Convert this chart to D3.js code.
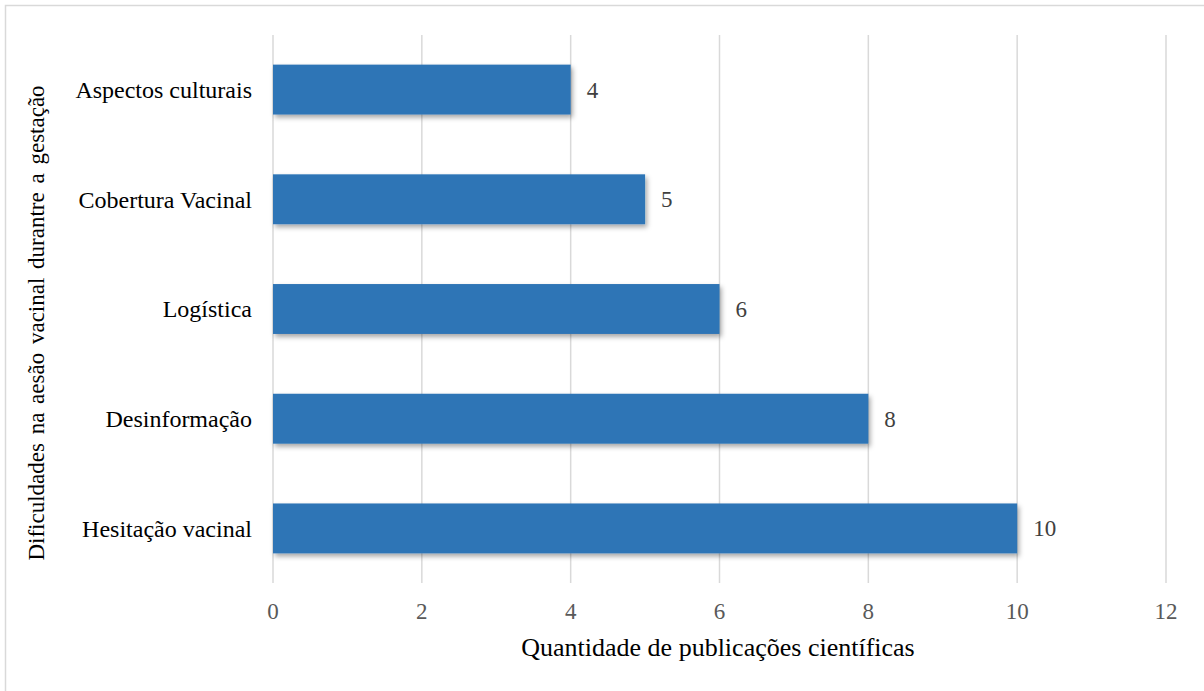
<!DOCTYPE html>
<html>
<head>
<meta charset="utf-8">
<script src="https://cdn.jsdelivr.net/npm/d3@7"></script>
<style>
  html, body { margin: 0; padding: 0; background: #fff; }
  svg { display: block; }
</style>
</head>
<body>
<svg id="chart" width="1204" height="691"></svg>
<script>
// Dificuldades na adesão vacinal — horizontal bar chart
const categories = ["Aspectos culturais", "Cobertura Vacinal", "Logística", "Desinformação", "Hesitação vacinal"];
const values = [4, 5, 6, 8, 10];
const xTicks = [0, 2, 4, 6, 8, 10, 12];
const xTitle = "Quantidade de publicações científicas";
const yTitle = "Dificuldades na aesão vacinal durantre a gestação";

const svg = d3.select("#chart");
const W = 1204, H = 691;
const margin = { top: 35, right: 38, bottom: 108, left: 273 };
const font = "Liberation Serif, Times New Roman, serif";

// Outer chart frame
svg.append("rect")
  .attr("x", 5.5).attr("y", 5.5)
  .attr("width", W + 10).attr("height", H + 10)
  .attr("fill", "#fff").attr("stroke", "#d9d9d9").attr("stroke-width", 1.5);

const defs = svg.append("defs");
const f = defs.append("filter").attr("id", "barShadow")
  .attr("x", "-5%").attr("y", "-20%").attr("width", "110%").attr("height", "150%");
f.append("feDropShadow")
  .attr("dx", 2).attr("dy", 3).attr("stdDeviation", 2.5)
  .attr("flood-color", "#000").attr("flood-opacity", 0.35);

const x = d3.scaleLinear().domain([0, 12]).range([margin.left, 1166]);
const y = d3.scaleBand().domain(categories)
  .range([margin.top, 583]).paddingInner(0.545).paddingOuter(0.27);

// Vertical gridlines
svg.append("g").selectAll("line").data(xTicks).join("line")
  .attr("x1", d => x(d)).attr("x2", d => x(d))
  .attr("y1", margin.top).attr("y2", 583)
  .attr("stroke", "#d9d9d9").attr("stroke-width", 1.5);

// Bars
svg.append("g").selectAll("rect").data(categories).join("rect")
  .attr("x", x(0))
  .attr("y", d => y(d))
  .attr("width", (d, i) => x(values[i]) - x(0))
  .attr("height", y.bandwidth())
  .attr("fill", "#2e75b6")
  .attr("filter", "url(#barShadow)");

// Value labels
svg.append("g").selectAll("text").data(categories).join("text")
  .attr("x", (d, i) => x(values[i]) + 16)
  .attr("y", d => y(d) + y.bandwidth() / 2)
  .attr("dy", "0.35em")
  .style("font-family", font).style("font-size", "23px")
  .attr("fill", "#404040")
  .text((d, i) => values[i]);

// Category labels
svg.append("g").selectAll("text").data(categories).join("text")
  .attr("x", 252)
  .attr("y", d => y(d) + y.bandwidth() / 2)
  .attr("dy", "0.35em")
  .attr("text-anchor", "end")
  .style("font-family", font).style("font-size", "24px")
  .attr("fill", "#000")
  .text(d => d);

// X tick labels
svg.append("g").selectAll("text").data(xTicks).join("text")
  .attr("x", d => x(d))
  .attr("y", 619)
  .attr("text-anchor", "middle")
  .style("font-family", font).style("font-size", "23px")
  .attr("fill", "#595959")
  .text(d => d);

// Axis titles
svg.append("text")
  .attr("x", 718).attr("y", 656)
  .attr("text-anchor", "middle")
  .style("font-family", font).style("font-size", "26px")
  .attr("fill", "#000")
  .text(xTitle);

svg.append("text")
  .attr("transform", "translate(44,323) rotate(-90)")
  .attr("text-anchor", "middle")
  .style("font-family", font).style("font-size", "23px")
  .attr("fill", "#000")
  .style("word-spacing", "3px")
  .text(yTitle);
</script>
</body>
</html>
